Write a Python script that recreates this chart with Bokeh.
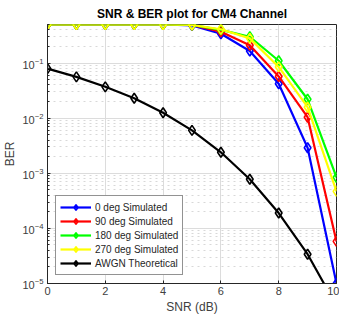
from bokeh.plotting import figure
from bokeh.models import Range1d, FixedTicker, Legend, LegendItem
from bokeh.embed import file_html
from bokeh.resources import INLINE

snr = [0, 1, 2, 3, 4, 5, 6, 7, 8, 9, 10]
ber_0 = [0.5, 0.5, 0.5, 0.5, 0.5, 0.48, 0.34, 0.165, 0.042, 0.0029, 1.0e-5]
ber_90 = [0.5, 0.5, 0.5, 0.5, 0.5, 0.49, 0.37, 0.21, 0.057, 0.0104, 5.8e-5]
ber_180 = [0.5, 0.5, 0.5, 0.5, 0.5, 0.49, 0.40, 0.30, 0.11, 0.022, 8.4e-4]
ber_270 = [0.5, 0.5, 0.5, 0.5, 0.5, 0.49, 0.41, 0.28, 0.085, 0.0158, 4.7e-4]
ber_awgn = [0.079, 0.056, 0.037, 0.023, 0.0125, 0.006, 0.0024, 0.00078, 0.00019, 3.4e-5, 3.9e-6]

series = [
    ("0 deg Simulated", ber_0, "#0000ff"),
    ("90 deg Simulated", ber_90, "#ff0000"),
    ("180 deg Simulated", ber_180, "#00ff00"),
    ("270 deg Simulated", ber_270, "#ffff00"),
    ("AWGN Theoretical", ber_awgn, "#000000"),
]

x_ticks = [0, 2, 4, 6, 8, 10]
y_ticks = [1e-5, 1e-4, 1e-3, 1e-2, 1e-1]
y_minor = [m * 10.0 ** e for e in range(-5, 0) for m in range(2, 10)]

FONT = "Liberation Sans"
AX = "#262626"

p = figure(width=339, frame_height=259, y_axis_type="log",
           x_range=Range1d(0, 10), y_range=Range1d(1e-5, 0.5),
           output_backend="svg", toolbar_location=None,
           title="SNR & BER plot for CM4 Channel",
           min_border_left=41, min_border_right=3, min_border_top=4, min_border_bottom=0)

p.title.align = "center"
p.title.text_font = FONT
p.title.text_font_size = "12px"
p.title.text_font_style = "bold"
p.title.text_color = "#000000"
p.title.offset = 0
p.title.standoff = 8

p.outline_line_color = AX
p.outline_line_alpha = 1.0
p.outline_line_width = 1

p.xaxis.ticker = FixedTicker(ticks=x_ticks)
p.yaxis.ticker = FixedTicker(ticks=y_ticks, minor_ticks=y_minor)
p.xaxis.axis_label = "SNR (dB)"
p.yaxis.axis_label = "BER"
for ax in (p.xaxis[0], p.yaxis[0]):
    ax.axis_line_color = AX
    ax.major_tick_line_color = AX
    ax.minor_tick_line_color = AX
    ax.major_tick_in = 3
    ax.major_tick_out = 0
    ax.minor_tick_in = 2
    ax.minor_tick_out = 0
    ax.major_label_text_font = FONT
    ax.major_label_text_font_size = "11px"
    ax.major_label_text_color = "#404040"
    ax.axis_label_text_font = FONT
    ax.axis_label_text_font_size = "12px"
    ax.axis_label_text_font_style = "normal"
    ax.axis_label_text_color = "#404040"
p.xaxis.minor_tick_line_color = None
p.xaxis.major_label_standoff = 3
p.xaxis.axis_label_standoff = 2
p.yaxis.major_label_standoff = 4
p.yaxis.axis_label_standoff = 2

p.xgrid.grid_line_color = "#dcdcdc"
p.ygrid.grid_line_color = "#dcdcdc"
p.ygrid.minor_grid_line_color = "#d8d8d8"
p.ygrid.minor_grid_line_dash = "dotted"

items = []
for label, vals, color in series:
    r1 = p.line(snr, vals, line_color=color, line_width=2.2)
    r2 = p.scatter(snr, vals, marker="diamond", size=10, line_color=color,
                   line_width=1.6, fill_color=None)
    items.append(LegendItem(label=label, renderers=[r1, r2]))

legend = Legend(items=items, location="bottom_left")
legend.margin = 8
legend.padding = 4
legend.spacing = 0
legend.label_height = 14
legend.glyph_height = 14
legend.glyph_width = 31
legend.label_standoff = 4
legend.label_text_font = FONT
legend.label_text_font_size = "10px"
legend.label_text_color = "#262626"
legend.border_line_color = AX
legend.border_line_width = 1
legend.background_fill_alpha = 1.0
p.add_layout(legend, "center")

open("out.html", "w").write(file_html(p, INLINE))
